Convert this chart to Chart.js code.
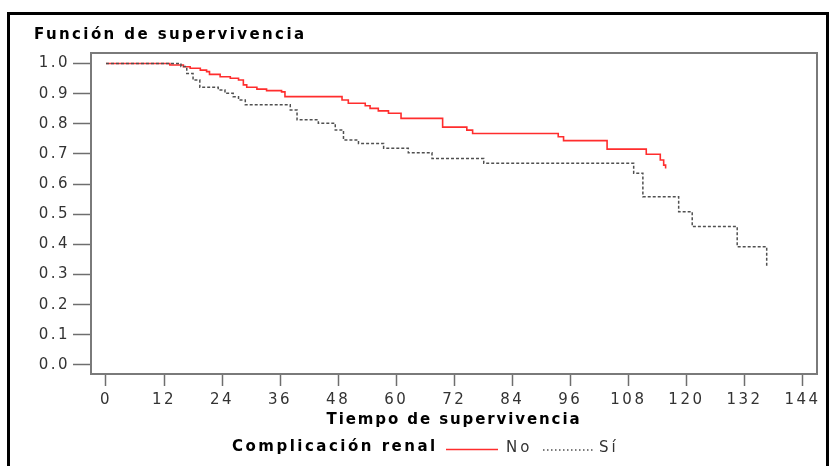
<!DOCTYPE html>
<html>
<head>
<meta charset="utf-8">
<script src="https://cdn.jsdelivr.net/npm/chart.js@4.4.1/dist/chart.umd.min.js"></script>
<style>
  html, body { margin: 0; padding: 0; background: #ffffff; }
  #wrap { position: relative; width: 834px; height: 466px; }
</style>
</head>
<body>
<div id="wrap"><canvas id="km" width="834" height="466"></canvas></div>
<script>
// Texts
const chartTitle = 'Función de supervivencia';
const xAxisTitle = 'Tiempo de supervivencia';
const legendTitle = 'Complicación renal';
const groupNames = ['No', 'Sí'];

// Kaplan-Meier estimates: event times (months) and survival after each step
const noTimes = [0, 13.2, 16, 17.4, 19.5, 20.8, 21.4, 23.6, 25.7, 27.4, 28.4, 29.1, 31.2, 33.2, 36.3, 37,
  48.8, 50.1, 53.6, 54.6, 56.3, 58.4, 61, 69.6, 74.6, 75.8, 93.5, 94.6, 103.6, 111.7, 114.6, 115.3, 115.7];
const noSurv = [1.0, 0.995, 0.989, 0.984, 0.978, 0.973, 0.964, 0.956, 0.951, 0.945, 0.929, 0.921, 0.915, 0.910, 0.906, 0.890,
  0.879, 0.868, 0.860, 0.851, 0.843, 0.835, 0.818, 0.789, 0.779, 0.768, 0.757, 0.744, 0.716, 0.699, 0.680, 0.663, 0.652];

const siTimes = [0, 15.5, 16.7, 18.0, 19.4, 23.2, 24.6, 26.3, 27.4, 28.8, 38.1, 39.5, 43.9, 47.4, 49.1, 52.2,
  57.4, 62.5, 67.4, 78.1, 109.1, 111, 118.4, 121.2, 130.5, 136.6];
const siSurv = [1.0, 0.990, 0.967, 0.945, 0.921, 0.912, 0.901, 0.890, 0.879, 0.863, 0.846, 0.813, 0.802, 0.779, 0.746, 0.735,
  0.719, 0.704, 0.685, 0.669, 0.636, 0.558, 0.508, 0.459, 0.392, 0.328];

// Axis ticks
const xTicks = [0, 12, 24, 36, 48, 60, 72, 84, 96, 108, 120, 132, 144];
const yTicks = [0.0, 0.1, 0.2, 0.3, 0.4, 0.5, 0.6, 0.7, 0.8, 0.9, 1.0];

const toPoints = (times, surv) => times.map((t, i) => ({ x: t, y: surv[i] }));

const tickFont = { family: '"DejaVu Sans", sans-serif', size: 15 };
const boldFont = 'bold 15px "DejaVu Sans", sans-serif';
const plainFont = '15px "DejaVu Sans", sans-serif';

// Frame, titles and the inline legend
const decor = {
  id: 'decor',
  beforeDraw(chart) {
    chart.ctx.letterSpacing = '2.5px';
  },
  afterDraw(chart) {
    const ctx = chart.ctx;
    const a = chart.chartArea;
    ctx.save();
    ctx.letterSpacing = '0px';

    // outer border
    ctx.strokeStyle = '#000000';
    ctx.lineWidth = 3;
    ctx.beginPath();
    ctx.moveTo(8.5, 470);
    ctx.lineTo(8.5, 13.5);
    ctx.lineTo(827.5, 13.5);
    ctx.lineTo(827.5, 470);
    ctx.stroke();

    // plot frame
    ctx.strokeStyle = '#7a7a7a';
    ctx.lineWidth = 2;
    ctx.strokeRect(a.left, a.top, a.right - a.left, a.bottom - a.top);

    // chart title
    ctx.fillStyle = '#000000';
    ctx.font = boldFont;
    ctx.textBaseline = 'alphabetic';
    ctx.textAlign = 'left';
    ctx.letterSpacing = '2.4px';
    ctx.fillText(chartTitle, 34, 39);

    // x axis title
    ctx.textAlign = 'center';
    ctx.letterSpacing = '1.9px';
    ctx.fillText(xAxisTitle, (a.left + a.right) / 2, 423.5);

    // legend
    const ds = chart.data.datasets;
    ctx.textAlign = 'left';
    ctx.letterSpacing = '2.5px';
    ctx.fillText(legendTitle, 232, 451);

    ctx.lineWidth = ds[0].borderWidth;
    ctx.strokeStyle = ds[0].borderColor;
    ctx.setLineDash([]);
    ctx.beginPath();
    ctx.moveTo(446, 449.5);
    ctx.lineTo(498, 449.5);
    ctx.stroke();

    ctx.font = plainFont;
    ctx.fillStyle = '#333333';
    ctx.letterSpacing = '3px';
    ctx.fillText(ds[0].label, 506, 452);

    ctx.lineWidth = 1.5;
    ctx.strokeStyle = ds[1].borderColor;
    ctx.setLineDash([1.5, 2.5]);
    ctx.beginPath();
    ctx.moveTo(543, 450);
    ctx.lineTo(593, 450);
    ctx.stroke();
    ctx.setLineDash([]);

    ctx.fillText(ds[1].label, 599, 452);
    ctx.restore();
  }
};

new Chart(document.getElementById('km'), {
  type: 'line',
  data: {
    datasets: [
      {
        label: groupNames[0],
        data: toPoints(noTimes, noSurv),
        borderColor: '#ff2d2d',
        borderWidth: 1.6,
        stepped: true,
        pointRadius: 0,
        fill: false,
        order: 1
      },
      {
        label: groupNames[1],
        data: toPoints(siTimes, siSurv),
        borderColor: '#505050',
        borderWidth: 1.5,
        borderDash: [3, 2],
        stepped: true,
        pointRadius: 0,
        fill: false,
        order: 0
      }
    ]
  },
  options: {
    responsive: false,
    animation: false,
    devicePixelRatio: 1,
    layout: { padding: { left: 0, top: 53, right: 17, bottom: 36 } },
    plugins: {
      legend: { display: false },
      title: { display: false },
      tooltip: { enabled: false }
    },
    scales: {
      x: {
        type: 'linear',
        min: -3.1,
        max: 147,
        afterBuildTicks: (scale) => { scale.ticks = xTicks.map(v => ({ value: v })); },
        afterFit: (scale) => { scale.height = 56; },
        grid: { drawOnChartArea: false, drawTicks: true, tickLength: 12, tickColor: '#6e6e6e', tickWidth: 1.5 },
        border: { display: false },
        ticks: { color: '#333333', font: tickFont, padding: 5, maxRotation: 0, autoSkip: false,
          callback: (v) => String(v) }
      },
      y: {
        type: 'linear',
        min: -0.0299,
        max: 1.0348,
        afterBuildTicks: (scale) => { scale.ticks = yTicks.map(v => ({ value: v })); },
        afterFit: (scale) => { scale.width = 91; },
        grid: { drawOnChartArea: false, drawTicks: true, tickLength: 18, tickColor: '#6e6e6e', tickWidth: 1.5 },
        border: { display: false },
        ticks: { color: '#333333', font: tickFont, padding: 3, autoSkip: false,
          callback: (v) => Number(v).toFixed(1) }
      }
    }
  },
  plugins: [decor]
});
</script>
</body>
</html>
